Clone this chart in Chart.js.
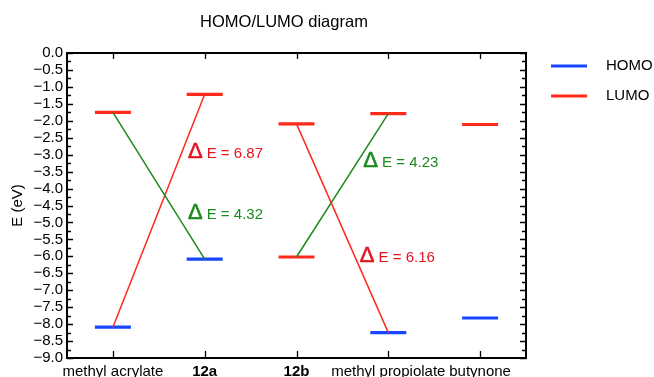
<!DOCTYPE html>
<html>
<head>
<meta charset="utf-8">
<title>HOMO/LUMO diagram</title>
<script src="https://cdn.jsdelivr.net/npm/chart.js@4/dist/chart.umd.min.js"></script>
<style>
  html, body { margin: 0; padding: 0; background: #fff; }
  canvas { display: block; }
</style>
</head>
<body>
<canvas id="chart" width="654" height="377"></canvas>
<script>
// ── Data ────────────────────────────────────────────────────────────────────
const CATEGORIES = ['methyl acrylate', '12a', '12b', 'methyl propiolate', 'butynone'];
const HOMO = [-8.09, -6.08, -6.02, -8.25, -7.82];   // eV
const LUMO = [-1.75, -1.22, -2.09, -1.79, -2.11];   // eV
// [from category, from level, to category, to level]
const TRANSITIONS = [
  [0, 'LUMO', 1, 'HOMO'],
  [0, 'HOMO', 1, 'LUMO'],
  [2, 'LUMO', 3, 'HOMO'],
  [2, 'HOMO', 3, 'LUMO'],
];
const GAP_LABELS = ['4.32', '6.87', '6.16', '4.23'];
const Y_MIN = -9.0;
const Y_MAX = 0.0;
const Y_STEP = 0.5;

// ── Style / placement ───────────────────────────────────────────────────────
const FONT = "'Liberation Sans', Arial, Helvetica, sans-serif";
const BLUE = '#1746ff';
const RED = '#ff2a1a';
const GREEN = '#1c8a1c';
const TEXT_RED = '#e3141e';
const HOMO_COLORS = [BLUE, BLUE, RED, BLUE, BLUE];  // 12b HOMO is drawn red in the original
const TRANSITION_COLORS = [GREEN, RED, RED, GREEN];
const GAP_TEXT_COLORS = [GREEN, TEXT_RED, TEXT_RED, GREEN];
// label anchor in data units: [x start, baseline energy]
const GAP_LABEL_POS = [[1.318, -4.90], [1.318, -3.10], [3.19, -6.16], [3.228, -3.35]];
const HALF_BAR = 0.196;
const BOLD_LABELS = ['12a', '12b'];

const fmtE = v => (v < -1e-9 ? '\u2212' : '') + Math.abs(v).toFixed(1);

// ── Datasets ────────────────────────────────────────────────────────────────
const levelOf = (i, kind) => kind === 'HOMO' ? HOMO[i] : LUMO[i];

const datasets = [];
TRANSITIONS.forEach(([a, ka, b, kb], k) => {
  datasets.push({
    label: 'gap' + k,
    data: [{ x: a + 0.5, y: levelOf(a, ka) }, { x: b + 0.5, y: levelOf(b, kb) }],
    borderColor: TRANSITION_COLORS[k],
    borderWidth: 1.5,
  });
});
CATEGORIES.forEach((name, i) => {
  datasets.push({
    label: name + ' LUMO',
    data: [{ x: i + 0.5 - HALF_BAR, y: LUMO[i] }, { x: i + 0.5 + HALF_BAR, y: LUMO[i] }],
    borderColor: RED,
    borderWidth: 3.2,
  });
  datasets.push({
    label: name + ' HOMO',
    data: [{ x: i + 0.5 - HALF_BAR, y: HOMO[i] }, { x: i + 0.5 + HALF_BAR, y: HOMO[i] }],
    borderColor: HOMO_COLORS[i],
    borderWidth: 3.2,
  });
});
datasets.forEach(d => {
  d.showLine = true;
  d.pointRadius = 0;
  d.pointHoverRadius = 0;
  d.borderCapStyle = 'butt';
});

// ── Frame, inward ticks, title, legend, gap labels ──────────────────────────
const decor = {
  id: 'decor',
  afterDatasetsDraw(chart) {
    const { ctx, chartArea: a, scales: { x, y } } = chart;
    ctx.save();

    // inward ticks
    ctx.strokeStyle = '#000';
    ctx.lineWidth = 1.3;
    ctx.beginPath();
    for (let v = Y_MIN; v <= Y_MAX + 1e-9; v += Y_STEP / 2) {
      const py = Math.round(y.getPixelForValue(v)) + 0.5;
      const major = Math.abs(v / Y_STEP - Math.round(v / Y_STEP)) < 1e-6;
      const len = major ? 6 : 4;
      ctx.moveTo(a.left, py); ctx.lineTo(a.left + len, py);
      ctx.moveTo(a.right, py); ctx.lineTo(a.right - len, py);
    }
    CATEGORIES.forEach((_, i) => {
      const px = Math.round(x.getPixelForValue(i + 0.5)) + 0.5;
      ctx.moveTo(px, a.top); ctx.lineTo(px, a.top + 6);
      ctx.moveTo(px, a.bottom); ctx.lineTo(px, a.bottom - 7);
    });
    ctx.stroke();

    // frame
    ctx.lineWidth = 2;
    ctx.strokeRect(a.left, a.top, a.right - a.left, a.bottom - a.top);

    // gap labels
    GAP_LABELS.forEach((txt, k) => {
      const [gx, gy] = GAP_LABEL_POS[k];
      const px = x.getPixelForValue(gx);
      const py = y.getPixelForValue(gy);
      ctx.fillStyle = GAP_TEXT_COLORS[k];
      ctx.strokeStyle = GAP_TEXT_COLORS[k];
      ctx.textBaseline = 'alphabetic';
      ctx.textAlign = 'left';
      ctx.font = `22px ${FONT}`;
      ctx.lineWidth = 0.6;
      ctx.fillText('\u0394', px, py);
      ctx.strokeText('\u0394', px, py);
      const w = ctx.measureText('\u0394').width;
      ctx.font = `15px ${FONT}`;
      ctx.fillText('E = ' + txt, px + w + 4, py);
    });

    // title
    ctx.fillStyle = '#000';
    ctx.font = `16.5px ${FONT}`;
    ctx.textAlign = 'center';
    ctx.textBaseline = 'middle';
    ctx.fillText('HOMO/LUMO diagram', 284, 22);

    // legend
    ctx.font = `15px ${FONT}`;
    [['HOMO', BLUE, 66], ['LUMO', RED, 96]].forEach(([lab, col, ly]) => {
      ctx.strokeStyle = col;
      ctx.lineWidth = 3;
      ctx.beginPath();
      ctx.moveTo(551, ly); ctx.lineTo(587, ly);
      ctx.stroke();
      ctx.fillStyle = '#000';
      ctx.textAlign = 'left';
      ctx.fillText(lab, 606, ly);
    });

    ctx.restore();
  },
};

new Chart(document.getElementById('chart'), {
  type: 'scatter',
  data: { datasets },
  plugins: [decor],
  options: {
    responsive: false,
    devicePixelRatio: 1,
    animation: false,
    events: [],
    layout: { padding: { left: 9, right: 128, top: 53, bottom: 0 } },
    plugins: { legend: { display: false }, tooltip: { enabled: false }, title: { display: false } },
    scales: {
      x: {
        type: 'linear',
        min: 0,
        max: CATEGORIES.length,
        grid: { display: false, drawTicks: false },
        border: { display: false },
        afterBuildTicks: s => { s.ticks = CATEGORIES.map((_, i) => ({ value: i + 0.5 })); },
        afterFit: s => { s.height = 19; },
        ticks: {
          autoSkip: false,
          maxRotation: 0,
          minRotation: 0,
          padding: 5,
          color: '#000',
          callback: (v, i) => CATEGORIES[i],
          font: c => ({
            family: FONT,
            size: 15,
            weight: BOLD_LABELS.includes(CATEGORIES[c.index]) ? 'bold' : 'normal',
          }),
        },
      },
      y: {
        type: 'linear',
        min: Y_MIN,
        max: Y_MAX,
        grid: { display: false, drawTicks: false },
        border: { display: false },
        afterFit: s => { s.width = 58; },
        title: { display: true, text: 'E (eV)', color: '#000', font: { family: FONT, size: 15 }, padding: 0 },
        ticks: {
          stepSize: Y_STEP,
          autoSkip: false,
          padding: 4,
          color: '#000',
          font: { family: FONT, size: 15 },
          callback: v => fmtE(v),
        },
      },
    },
  },
});
</script>
</body>
</html>
